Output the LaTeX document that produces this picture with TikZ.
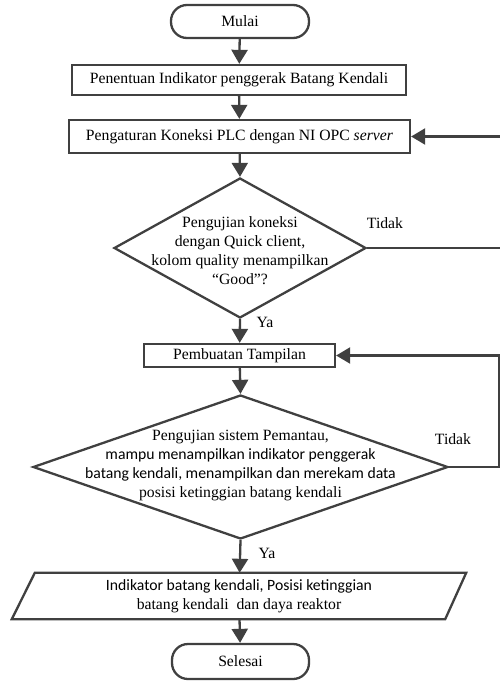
\documentclass[tikz,border=0pt]{standalone}
\usepackage{fontspec}
\setmainfont{Liberation Serif}
\newfontfamily\calib{Carlito}
\usetikzlibrary{arrows.meta,shapes.geometric}
\definecolor{lc}{HTML}{404040}
\begin{document}
\begin{tikzpicture}[x=1pt,y=-1pt,
  fnt/.style={font=\fontsize{15.7}{19}\selectfont},
  ln/.style={draw=lc, line width=2.3pt},
  arr/.style={ln, -{Triangle[length=14pt,width=16pt]}},
  proc/.style={ln, rectangle, inner sep=0pt, fnt},
  term/.style={proc, rounded corners=16pt},
  dec/.style={ln, diamond, inner sep=0pt},
  txt/.style={align=center, inner sep=0pt, fnt},
  lab/.style={inner sep=0pt, fnt}]
\useasboundingbox (0,0) rectangle (500,681);
\node[term, minimum width=138pt, minimum height=33pt] (start) at (240,21.5) {Mulai};
\node[proc, minimum width=334pt, minimum height=30pt] (b1) at (239,80) {Penentuan Indikator penggerak Batang Kendali};
\node[proc, minimum width=341pt, minimum height=33pt] (b2) at (239.5,136.5) {Pengaturan Koneksi PLC dengan NI OPC \textit{server}};
\node[dec, minimum width=252pt, minimum height=140pt] (d1) at (240,248) {};
\node[txt] (d1t) at (240,251) {Pengujian koneksi\\dengan Quick client,\\kolom quality menampilkan\\“Good”?};
\node[proc, minimum width=191pt, minimum height=23pt] (b3) at (239.5,355.5) {Pembuatan Tampilan};
\node[dec, minimum width=415pt, minimum height=144pt] (d2) at (240.5,467) {};
\node[txt] (d2t) at (240.5,465) {Pengujian sistem Pemantau,\\{\calib mampu menampilkan indikator penggerak}\\{\calib batang kendali, menampilkan dan merekam data}\\posisi ketinggian batang kendali};
\node[txt, rectangle, minimum width=454pt, minimum height=46pt] (p) at (239,596) {{\calib Indikator batang kendali, Posisi ketinggian}\\batang kendali~ dan daya reaktor};
\draw[ln] (p.south west) -- ([xshift=23pt]p.north west) -- (p.north east) -- ([xshift=-21pt]p.south east) -- cycle;
\node[term, minimum width=137pt, minimum height=35pt] (end) at (240.5,661.5) {Selesai};
\node[lab] (t1) at (385,223) {Tidak};
\node[lab] (t2) at (453,439) {Tidak};
\node[lab] (y1) at (265,322) {Ya};
\node[lab] (y2) at (267,553) {Ya};
\coordinate (r1a) at (504,248);
\coordinate (r1b) at (504,136.5);
\coordinate (r2a) at (499,467);
\coordinate (r2b) at (499,355.5);
\draw[arr] (start) -- (b1);
\draw[arr] (b1) -- (b2);
\draw[arr] (b2) -- (d1.north);
\draw[arr] (d1.south) -- (b3);
\draw[arr] (b3) -- (d2.north);
\draw[arr] (d2.south) -- (p);
\draw[arr] (p) -- (end);
\draw[arr] (d1.east) -- (r1a) -- (r1b) -- (b2.east);
\draw[arr] (d2.east) -- (r2a) -- (r2b) -- (b3.east);
\end{tikzpicture}
\end{document}
